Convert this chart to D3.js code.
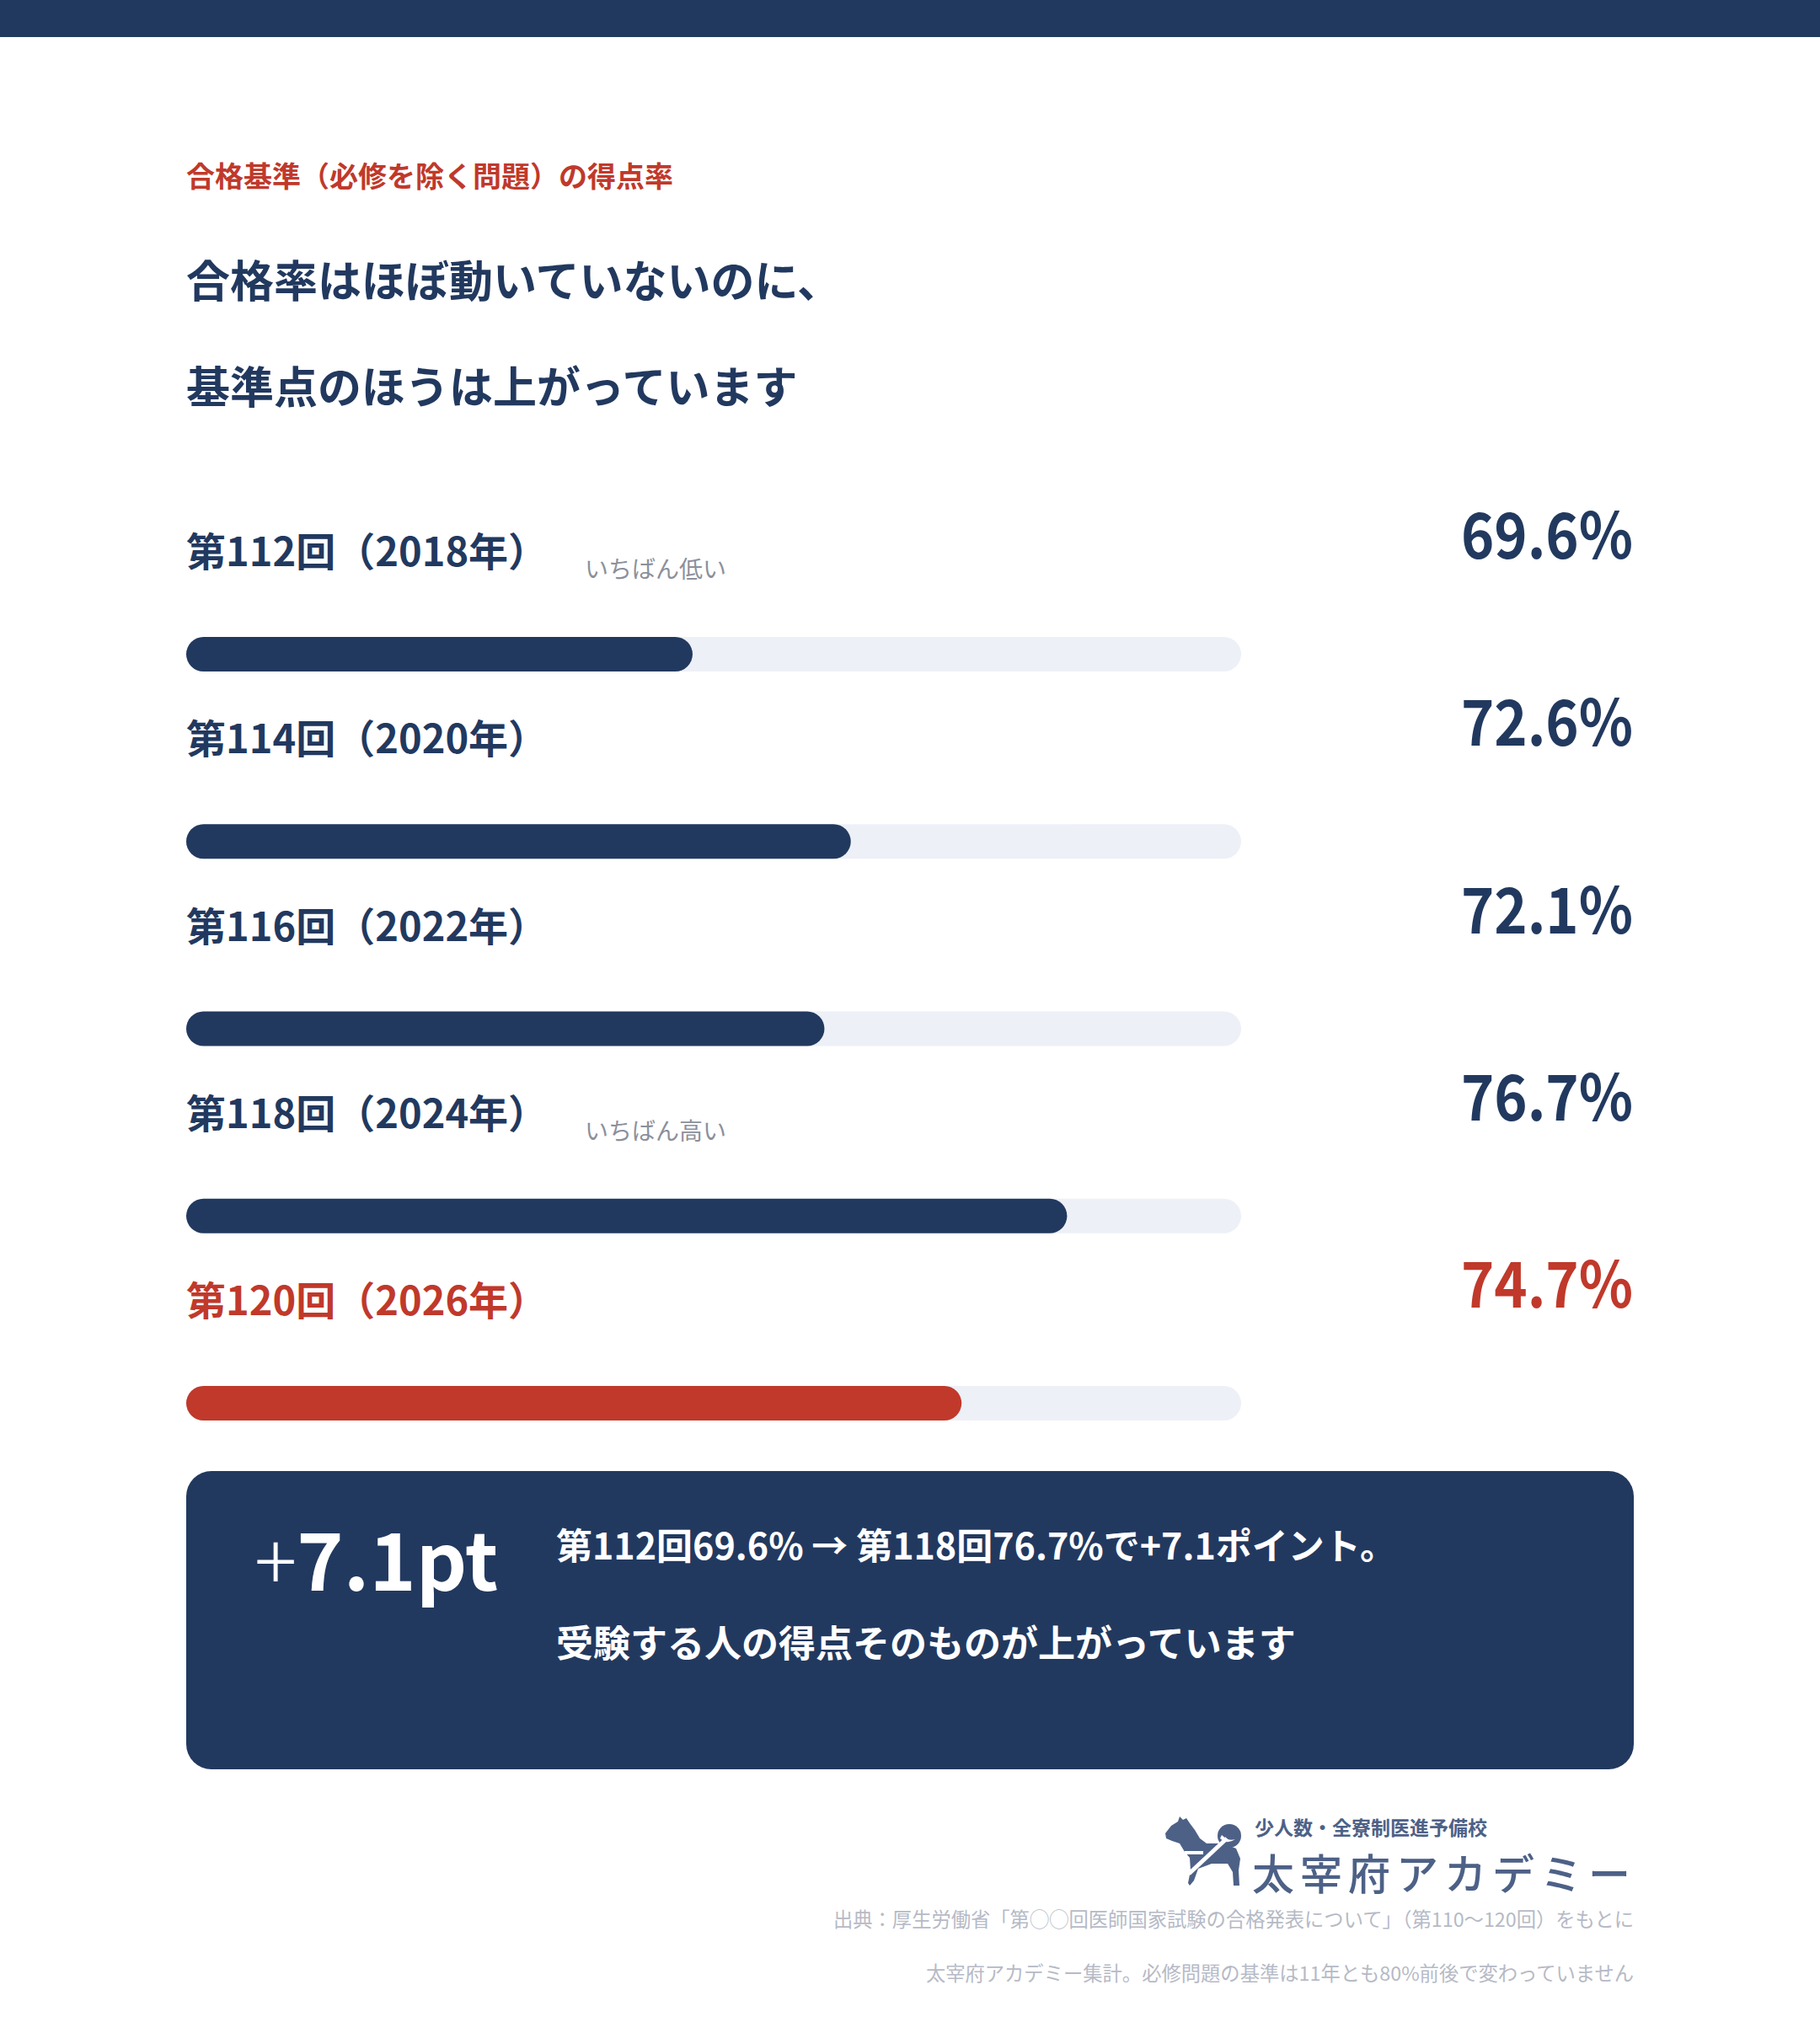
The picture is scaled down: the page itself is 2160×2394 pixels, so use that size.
<!DOCTYPE html>
<html>
<head>
<meta charset="utf-8">
<script src="https://cdn.jsdelivr.net/npm/d3@7"></script>
<style>
  body { margin: 0; background: #ffffff; }
  svg { display: block; }
  text { font-family: "Noto Sans CJK JP", "Noto Sans", sans-serif; }
</style>
</head>
<body>
<svg id="chart"></svg>
<script>
// data
const rounds = ["第112回（2018年）", "第114回（2020年）", "第116回（2022年）", "第118回（2024年）", "第120回（2026年）"];
const rates = [69.6, 72.6, 72.1, 76.7, 74.7];
const notes = ["いちばん低い", "", "", "いちばん高い", ""];
const latest = rounds.length - 1;
const domainRange = [60, 80];

const kicker = "合格基準（必修を除く問題）の得点率";
const titleLines = ["合格率はほぼ動いていないのに、", "基準点のほうは上がっています"];
const calloutLines = ["第112回69.6% → 第118回76.7%で+7.1ポイント。", "受験する人の得点そのものが上がっています"];
const logoLines = ["少人数・全寮制医進予備校", "太宰府アカデミー"];
const sourceLines = [
  "出典：厚生労働省「第◯◯回医師国家試験の合格発表について」（第110〜120回）をもとに",
  "太宰府アカデミー集計。必修問題の基準は11年とも80%前後で変わっていません"
];

const W = 2160, H = 2394;
const navy = "#22395f", red = "#c0392b", track = "#edf0f7";

const svg = d3.select("#chart").attr("width", W).attr("height", H);

svg.append("rect").attr("x", 0).attr("y", 0).attr("width", W).attr("height", 44).attr("fill", navy);

// heading
svg.append("text")
    .attr("x", 221).attr("y", 222)
    .attr("font-size", "34px").attr("font-weight", 700)
    .attr("fill", red)
    .text(kicker);

svg.selectAll(".title")
    .data(titleLines).enter()
    .append("text")
    .attr("class", "title")
    .attr("x", 221)
    .attr("y", function (d, i) { return 353 + i * 126; })
    .attr("font-size", "52px").attr("font-weight", 700)
    .attr("fill", navy)
    .text(function (d) { return d; });

// scales
let x = d3.scaleLinear().domain(domainRange).range([221, 1473]);
let row = d3.scaleLinear().domain([0, rounds.length - 1]).range([0, 889]);
const barH = 41;

let rows = svg.selectAll(".row")
    .data(rates).enter()
    .append("g")
    .attr("class", "row")
    .attr("transform", function (d, i) { return "translate(0," + row(i) + ")"; });

rows.append("text")
    .attr("x", 221).attr("y", 672)
    .attr("font-size", "47px").attr("font-weight", 700)
    .attr("fill", function (d, i) { return i === latest ? red : navy; })
    .text(function (d, i) { return rounds[i]; });

rows.filter(function (d, i) { return notes[i] !== ""; })
    .append("text")
    .attr("x", 694).attr("y", 686)
    .attr("font-size", "28px")
    .attr("fill", "#8b909c")
    .text(function (d) { return notes[rates.indexOf(d)]; });

// value labels, slightly condensed like the reference
rows.append("g")
    .attr("transform", "translate(1938,663) scale(0.89,1)")
    .append("text")
    .attr("text-anchor", "end")
    .attr("font-size", "75px").attr("font-weight", 700)
    .attr("fill", function (d) { return rates.indexOf(d) === latest ? red : navy; })
    .text(function (d) { return d.toFixed(1) + "%"; });

rows.append("rect")
    .attr("x", x(domainRange[0])).attr("y", 756)
    .attr("width", x(domainRange[1]) - x(domainRange[0]))
    .attr("height", barH)
    .attr("rx", barH / 2)
    .attr("fill", track);

rows.append("rect")
    .attr("x", x(domainRange[0])).attr("y", 756)
    .attr("width", function (d) { return x(d) - x(domainRange[0]); })
    .attr("height", barH)
    .attr("rx", barH / 2)
    .attr("fill", function (d, i) { return i === latest ? red : navy; });

// callout box
let gain = rates[3] - rates[0];
let box = svg.append("g");
box.append("rect")
    .attr("x", 221).attr("y", 1746)
    .attr("width", 1718).attr("height", 354)
    .attr("rx", 30)
    .attr("fill", navy);
let big = box.append("text")
    .attr("x", 302).attr("y", 1888)
    .attr("font-size", "94px").attr("font-weight", 700)
    .attr("fill", "#ffffff");
big.append("tspan").attr("font-weight", 300).text("+");
big.append("tspan").text(gain.toFixed(1) + "pt");

box.selectAll(".callout")
    .data(calloutLines).enter()
    .append("text")
    .attr("class", "callout")
    .attr("x", 660)
    .attr("y", function (d, i) { return 1851 + i * 116; })
    .attr("font-size", function (d, i) { return i === 0 ? "43px" : "44px"; })
    .attr("font-weight", 700)
    .attr("fill", "#ffffff")
    .text(function (d) { return d; });

// logo
const logoColor = "#4d6187";
let logo = svg.append("g").attr("transform", "translate(1370,2150)");
logo.append("path")
    .attr("d", "M13,26 L20,17 L28,12 L30,6 L34,10 L38,8 L42,14 L48,22 L54,32 L62,38 L82,38 L97,44 L102,56 L100,70 L101,88 L94,88 L93,72 L87,62 L68,62 L52,68 L47,82 L42,88 L40,85 L43,70 L42,55 L36,48 L30,38 L21,35 L14,32 Z")
    .attr("fill", logoColor);
logo.append("circle").attr("cx", 89).attr("cy", 29).attr("r", 14).attr("fill", logoColor);
logo.append("path")
    .attr("d", "M78,32 Q86,40 96,33 Q88,36 80,28 Z")
    .attr("fill", "#ffffff");
logo.append("line")
    .attr("x1", 41).attr("y1", 74).attr("x2", 86).attr("y2", 32)
    .attr("stroke", "#ffffff").attr("stroke-width", 5);
logo.append("line")
    .attr("x1", 36).attr("y1", 49).attr("x2", 58).attr("y2", 49)
    .attr("stroke", "#ffffff").attr("stroke-width", 4);

// logo wordmark, two lines kept clear of each other
svg.append("text")
    .attr("x", 1489).attr("y", 2178)
    .attr("font-size", "23px").attr("font-weight", 700)
    .attr("fill", logoColor)
    .text(logoLines[0]);
svg.append("text")
    .attr("x", 1486).attr("y", 2243)
    .attr("font-size", "50px").attr("font-weight", 500)
    .attr("letter-spacing", "7px")
    .attr("fill", logoColor)
    .text(logoLines[1]);

// source notes
svg.selectAll(".source")
    .data(sourceLines).enter()
    .append("text")
    .attr("class", "source")
    .attr("x", 1939)
    .attr("y", function (d, i) { return 2287 + i * 64; })
    .attr("text-anchor", "end")
    .attr("font-size", "23.3px")
    .attr("fill", "#b6bac6")
    .text(function (d) { return d; });
</script>
</body>
</html>
